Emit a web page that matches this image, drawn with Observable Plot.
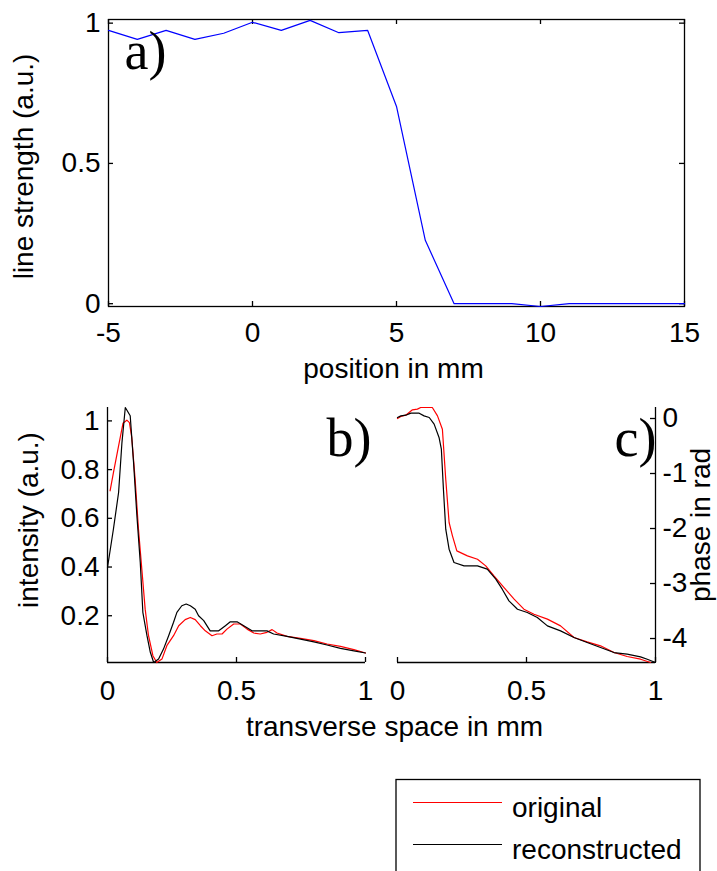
<!DOCTYPE html>
<html><head><meta charset="utf-8">
<script src="https://cdn.jsdelivr.net/npm/d3@7"></script>
<script src="https://cdn.jsdelivr.net/npm/@observablehq/plot@0.6"></script>
<style>
html,body{margin:0;padding:0;background:#fff;}
body{width:717px;height:871px;overflow:hidden;position:relative;}
.panel{position:absolute;}
</style></head><body>
<script>
// ---------- data ----------
// panel a
const posMM = [-5,-4,-3,-2,-1,0,1,2,3,4,5,6,7,8,9,10,11,12,13,14,15];
const lineStrength = [0.974,0.942,0.974,0.942,0.964,1.003,0.974,1.01,0.966,0.974,0.703,0.226,0,0,0,-0.01,0,0,0,0,0];
const aXTicks = [-5,0,5,10,15];
const aYTicks = [0,0.5,1];
// panel b (intensity)
const bOrigX = [0.010,0.023,0.043,0.060,0.075,0.085,0.094,0.107,0.120,0.133,0.146,0.159,0.176,0.191,0.211,0.230,0.256,0.276,0.301,0.321,0.340,0.360,0.379,0.405,0.424,0.444,0.463,0.489,0.515,0.541,0.567,0.592,0.618,0.638,0.657,0.696,0.748,0.800,0.851,0.903,0.955,1.0];
const bOrigY = [0.713,0.788,0.897,0.990,1.003,0.993,0.932,0.761,0.556,0.392,0.227,0.118,0.036,0.008,0.022,0.077,0.118,0.159,0.184,0.193,0.184,0.159,0.138,0.118,0.125,0.125,0.145,0.166,0.166,0.145,0.129,0.125,0.132,0.143,0.129,0.115,0.107,0.098,0.084,0.074,0.061,0.047];
const bRecX = [0,0.023,0.043,0.056,0.069,0.088,0.101,0.114,0.127,0.137,0.153,0.166,0.179,0.198,0.217,0.237,0.256,0.269,0.288,0.305,0.321,0.340,0.353,0.373,0.398,0.431,0.457,0.476,0.502,0.528,0.560,0.618,0.644,0.696,0.748,0.800,0.851,0.903,0.955,1.0];
const bRecY = [0.398,0.556,0.706,0.911,1.055,1.021,0.829,0.610,0.419,0.214,0.118,0.050,0.008,0.022,0.063,0.118,0.173,0.214,0.241,0.248,0.241,0.227,0.200,0.180,0.138,0.138,0.159,0.175,0.175,0.159,0.138,0.138,0.125,0.115,0.104,0.093,0.080,0.066,0.056,0.047];
const bXTicks = [0,0.5,1];
const bYTicks = [0.2,0.4,0.6,0.8,1];
// panel c (phase)
const cOrigX = [0,0.013,0.032,0.058,0.077,0.090,0.135,0.155,0.174,0.187,0.200,0.213,0.230,0.271,0.310,0.342,0.374,0.413,0.452,0.490,0.529,0.581,0.632,0.684,0.735,0.787,0.839,0.890,0.942,0.981];
const cOrigY = [0,0.036,0.06,0.158,0.17,0.2,0.2,0.048,-0.194,-1.103,-1.891,-2.133,-2.406,-2.497,-2.558,-2.679,-2.861,-3.073,-3.285,-3.467,-3.558,-3.648,-3.77,-3.982,-4.061,-4.133,-4.255,-4.327,-4.376,-4.436];
const cRecX = [0,0.013,0.032,0.052,0.084,0.103,0.123,0.142,0.161,0.170,0.178,0.187,0.200,0.219,0.258,0.310,0.348,0.381,0.406,0.432,0.465,0.503,0.542,0.581,0.632,0.684,0.735,0.787,0.839,0.890,0.942,0.968,1.0];
const cRecY = [0.018,0.048,0.06,0.097,0.097,0.048,0.018,-0.103,-0.345,-0.558,-1.285,-2.012,-2.376,-2.618,-2.679,-2.679,-2.739,-2.921,-3.103,-3.315,-3.467,-3.527,-3.618,-3.77,-3.861,-3.982,-4.073,-4.164,-4.255,-4.285,-4.333,-4.376,-4.436];
const cXTicks = [0,0.5,1];
const cYTicks = [0,-1,-2,-3,-4];
// legend
const seriesNames = ["original","reconstructed"];
const seriesColors = ["#ff0000","#000000"];

// ---------- helpers ----------
const FONT = "'Liberation Sans', Arial, sans-serif";
const SERIF = "'Liberation Serif', 'Times New Roman', serif";
const style = {fontSize:"28px", fontFamily:FONT, background:"transparent", overflow:"visible", color:"#000"};
const fmt = d => String(d);
const zip = (xs, ys) => xs.map((x,i)=>({x, y: ys[i]}));
function place(el, left, top){ el.classList.add("panel"); el.style.left = left+"px"; el.style.top = top+"px"; document.body.appendChild(el); }

// ---------- panel a ----------
{
  const W=717,H=390,mL=108,mR=33,mT=19,mB=84, pw=W-mL-mR, ph=H-mT-mB;
  const p = Plot.plot({
    width:W, height:H, marginLeft:mL, marginRight:mR, marginTop:mT, marginBottom:mB, style,
    x:{domain:[-5,15]}, y:{domain:[-0.01,1.013]},
    marks:[
      Plot.frame({stroke:"#000", strokeWidth:1.3}),
      Plot.ruleX(aXTicks,{insetTop:ph-5, stroke:"#000", strokeWidth:1.3}),
      Plot.ruleX(aXTicks,{insetBottom:ph-5, stroke:"#000", strokeWidth:1.3}),
      Plot.ruleY(aYTicks,{insetRight:pw-5, stroke:"#000", strokeWidth:1.3}),
      Plot.ruleY(aYTicks,{insetLeft:pw-5, stroke:"#000", strokeWidth:1.3}),
      Plot.line(zip(posMM,lineStrength),{x:"x",y:"y",stroke:"#0000ff",strokeWidth:1.2}),
      Plot.axisX(aXTicks,{tickSize:0,tickPadding:16,tickFormat:fmt,label:null}),
      Plot.axisY(aYTicks,{tickSize:0,tickPadding:8,tickFormat:fmt,label:null}),
      Plot.text(["a)"],{frameAnchor:"top-left",dx:16,dy:11,lineAnchor:"top",textAnchor:"start",fontSize:54,fontFamily:SERIF}),
      Plot.text(["position in mm"],{frameAnchor:"bottom",dx:-3,dy:52,lineAnchor:"top",textAnchor:"middle"}),
      Plot.text(["line strength (a.u.)"],{frameAnchor:"left",dx:-84,dy:3.5,rotate:-90,lineAnchor:"middle",textAnchor:"middle"})
    ]
  });
  place(p,0,0);
}
// ---------- panel b ----------
{
  const W=380,H=360,mL=107,mR=15,mT=17,mB=88, pw=W-mL-mR, ph=H-mT-mB;
  const yd=[0.008,1.055];
  const p = Plot.plot({
    width:W, height:H, marginLeft:mL, marginRight:mR, marginTop:mT, marginBottom:mB, style,
    x:{domain:[0,1]}, y:{domain:yd},
    marks:[
      Plot.ruleX([0],{stroke:"#000",strokeWidth:1.3}),
      Plot.ruleY([yd[0]],{stroke:"#000",strokeWidth:1.3}),
      Plot.ruleX(bXTicks,{insetTop:ph-5, stroke:"#000", strokeWidth:1.3}),
      Plot.ruleY(bYTicks,{insetRight:pw-5, stroke:"#000", strokeWidth:1.3}),
      Plot.line(zip(bOrigX,bOrigY),{x:"x",y:"y",stroke:seriesColors[0],strokeWidth:1.2}),
      Plot.line(zip(bRecX,bRecY),{x:"x",y:"y",stroke:seriesColors[1],strokeWidth:1.2}),
      Plot.axisX(bXTicks,{tickSize:0,tickPadding:18,tickFormat:fmt,label:null}),
      Plot.axisY(bYTicks,{tickSize:0,tickPadding:8,tickFormat:fmt,label:null}),
      Plot.text(["b)"],{frameAnchor:"top-left",dx:219,dy:10,lineAnchor:"top",textAnchor:"start",fontSize:54,fontFamily:SERIF}),
      Plot.text(["intensity (a.u.)"],{frameAnchor:"left",dx:-78,dy:-15,rotate:-90,lineAnchor:"middle",textAnchor:"middle"}),
      Plot.text(["transverse space in mm"],{frameAnchor:"bottom",dx:158,dy:54,lineAnchor:"top",textAnchor:"middle"})
    ]
  });
  place(p,0,390);
}
// ---------- panel c ----------
{
  const W=337,H=360,mL=17,mR=62,mT=17,mB=88, pw=W-mL-mR, ph=H-mT-mB;
  const yd=[-4.436,0.2];
  const p = Plot.plot({
    width:W, height:H, marginLeft:mL, marginRight:mR, marginTop:mT, marginBottom:mB, style,
    x:{domain:[0,1]}, y:{domain:yd},
    marks:[
      Plot.ruleX([1],{stroke:"#000",strokeWidth:1.3}),
      Plot.ruleY([yd[0]],{stroke:"#000",strokeWidth:1.3}),
      Plot.ruleX(cXTicks,{insetTop:ph-5, stroke:"#000", strokeWidth:1.3}),
      Plot.ruleY(cYTicks,{insetLeft:pw-5, stroke:"#000", strokeWidth:1.3}),
      Plot.line(zip(cOrigX,cOrigY),{x:"x",y:"y",stroke:seriesColors[0],strokeWidth:1.2}),
      Plot.line(zip(cRecX,cRecY),{x:"x",y:"y",stroke:seriesColors[1],strokeWidth:1.2}),
      Plot.axisX(cXTicks,{tickSize:0,tickPadding:18,tickFormat:fmt,label:null}),
      Plot.axisY(cYTicks,{anchor:"right",tickSize:0,tickPadding:7,tickFormat:fmt,label:null}),
      Plot.text(["c)"],{frameAnchor:"top-left",dx:217,dy:10,lineAnchor:"top",textAnchor:"start",fontSize:54,fontFamily:SERIF}),
      Plot.text(["phase in rad"],{frameAnchor:"right",dx:46,dy:-10,rotate:-90,lineAnchor:"middle",textAnchor:"middle"})
    ]
  });
  place(p,380,390);
}
// ---------- legend ----------
{
  const svg = d3.create("svg").attr("width",327).attr("height",101)
    .style("font-family",FONT).style("font-size","28px");
  svg.append("rect").attr("x",6).attr("y",9.5).attr("width",304).attr("height",200)
    .attr("fill","#fff").attr("stroke","#000").attr("stroke-width",1.3);
  seriesNames.forEach((name,i)=>{
    const cy = 32.5 + i*42;
    svg.append("line").attr("x1",23).attr("x2",112).attr("y1",cy).attr("y2",cy)
      .attr("stroke",seriesColors[i]).attr("stroke-width",1.2);
    svg.append("text").attr("x",122).attr("y",cy+14).text(name);
  });
  place(svg.node(),390,770);
}
</script></body></html>
